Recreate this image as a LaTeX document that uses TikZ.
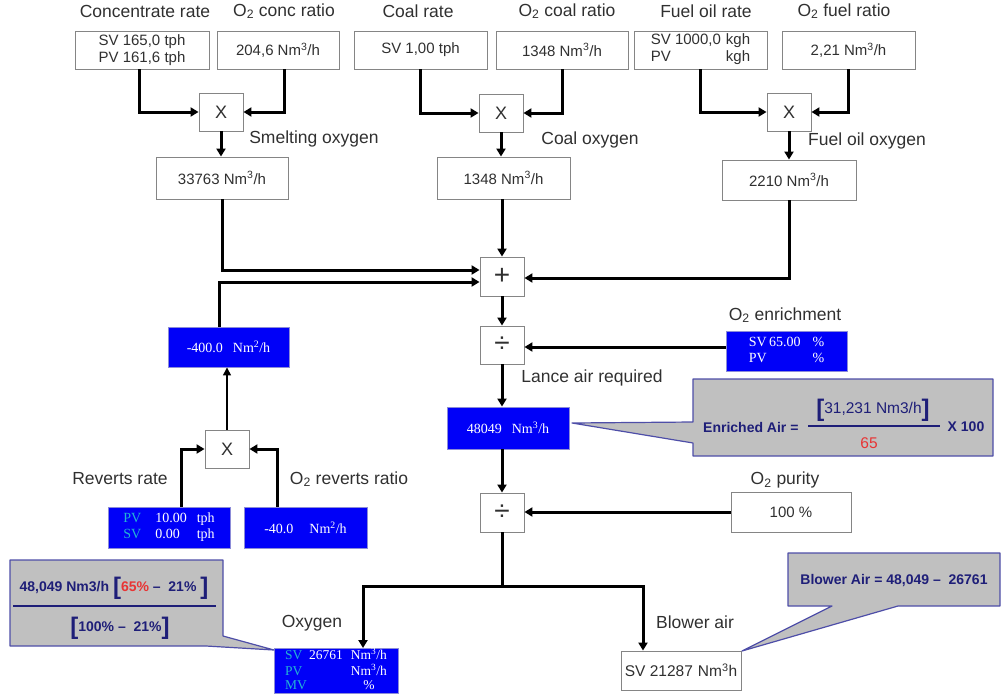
\documentclass[tikz,border=0pt]{standalone}
\usepackage{fontspec}
\setmainfont{Liberation Sans}
\newfontfamily\serifbox{Liberation Serif}
\usetikzlibrary{arrows.meta}
\definecolor{bxblue}{HTML}{0000F8}
\definecolor{bxedge}{HTML}{8C8CD8}
\definecolor{cyanlab}{HTML}{22B4D4}
\definecolor{navy}{HTML}{1E1E78}
\definecolor{calloutfill}{HTML}{C0C0C0}
\definecolor{calloutedge}{HTML}{4E4EA8}
\definecolor{redv}{HTML}{E83434}
\definecolor{lbltext}{HTML}{303030}
\definecolor{boxedge}{HTML}{858585}
\newcommand{\Nmh}{Nm\textsuperscript{3}/h}
\newcommand{\Otwo}{O\textsubscript{2}}
\newcommand{\bbr}[1]{\raisebox{-3pt}{\fontsize{24}{24}\selectfont\bfseries #1}}
\begin{document}
\begin{tikzpicture}[x=1pt,y=-1pt,
 wbox/.style={draw=boxedge,line width=0.9pt,fill=white,inner sep=0pt,font=\fontsize{15}{17}\selectfont,text=lbltext,align=center},
 opbox/.style={wbox,minimum width=44pt,minimum height=38pt},
 bbox/.style={draw=bxedge,line width=0.9pt,fill=bxblue,inner sep=0pt,text=white,font=\serifbox\fontsize{14}{16}\selectfont},
 lbl/.style={font=\fontsize{17.5}{20}\selectfont,text=lbltext,inner sep=0pt},
 conn/.style={line width=3pt,-{Triangle[length=8pt,width=9pt]}},
 plain/.style={line width=3pt},
 thinconn/.style={line width=1.4pt,-{Triangle[length=8pt,width=8pt]}},
 callout/.style={fill=calloutfill,draw=calloutedge,line width=1.2pt,line join=round},
 ctext/.style={text=navy,font=\bfseries\fontsize{14}{16}\selectfont,inner sep=0pt},
]
\useasboundingbox (0,0) rectangle (1003,696);

% top labels
\node[lbl] (lconc) at (145,11) {Concentrate rate};
\node[lbl] (loconc) at (284,11) {\Otwo{} conc ratio};
\node[lbl] (lcoal) at (418,11) {Coal rate};
\node[lbl] (locoal) at (567,11) {\Otwo{} coal ratio};
\node[lbl] (lfuel) at (706,11) {Fuel oil rate};
\node[lbl] (lofuel) at (844,11) {\Otwo{} fuel ratio};

% top boxes
\node[wbox,minimum width=134pt,minimum height=38pt] (conc) at (142,50) {SV 165,0 tph\\PV 161,6 tph};
\node[wbox,minimum width=122pt,minimum height=38pt] (oconc) at (278,50) {204,6 \Nmh};
\node[wbox,minimum width=133pt,minimum height=38pt] (coal) at (420.5,50) {SV 1,00 tph};
\node[wbox,minimum width=132pt,minimum height=38pt] (ocoal) at (562,50) {1348 \Nmh};
\node[wbox,minimum width=133pt,minimum height=38pt] (fuel) at (700.5,50) {\begin{tabular}{@{}l@{\hspace{5pt}}r@{}}SV 1000,0&kgh\\PV&kgh\end{tabular}};
\node[wbox,minimum width=133pt,minimum height=38pt] (ofuel) at (848.5,50) {2,21 \Nmh};

% multipliers
\node[opbox,font=\fontsize{18}{20}\selectfont] (x1) at (221,112) {X};
\node[opbox,font=\fontsize{18}{20}\selectfont] (x2) at (501,113) {X};
\node[opbox,font=\fontsize{18}{20}\selectfont] (x3) at (789,112) {X};

\node[lbl] (lsmelt) at (314,139) {Smelting oxygen};
\node[lbl] (lcoalo) at (590,140) {Coal oxygen};
\node[lbl] (lfuelo) at (867,141) {Fuel oil oxygen};

% middle boxes
\node[wbox,minimum width=132pt,minimum height=42pt] (smelt) at (222,178) {33763 \Nmh};
\node[wbox,minimum width=133pt,minimum height=42pt] (coalo) at (503.5,178) {1348 \Nmh};
\node[wbox,minimum width=134pt,minimum height=40pt] (fuelo) at (789,180) {2210 \Nmh};

% operators
\node[opbox,minimum height=39pt,font=\fontsize{28}{28}\selectfont] (plus) at (502,276.5) {+};
\node[opbox,font=\fontsize{28}{28}\selectfont] (div1) at (502,345) {÷};
\node[opbox,minimum height=39pt,font=\fontsize{28}{28}\selectfont] (div2) at (502,512.5) {÷};

% blue boxes
\node[bbox,minimum width=121pt,minimum height=40pt] (m400) at (228.5,347) {-400.0\hspace{10pt}Nm\textsuperscript{2}/h};
\node[lbl] (lenrich) at (785,315) {\Otwo{} enrichment};
\node[bbox,minimum width=121pt,minimum height=40pt] (enrich) at (786.5,351) {\begin{tabular}{@{}l@{\hspace{12pt}}l@{}}SV\,65.00 & \%\\ PV & \%\end{tabular}};
\node[lbl] (llance) at (592,378) {Lance air required};
\node[bbox,minimum width=122pt,minimum height=42pt] (res) at (508,428) {48049\hspace{10pt}\Nmh};

\node[opbox,font=\fontsize{18}{20}\selectfont] (rx) at (227,449) {X};
\node[lbl] (lrev) at (120,479) {Reverts rate};
\node[lbl] (lorev) at (349,479) {\Otwo{} reverts ratio};
\node[bbox,minimum width=122pt,minimum height=41pt] (rev) at (169,527.5) {\begin{tabular}{@{}l@{\hspace{14pt}}l@{\hspace{10pt}}l@{}}\textcolor{cyanlab}{PV} & 10.00 & tph\\ \textcolor{cyanlab}{SV} & 0.00 & tph\end{tabular}};
\node[bbox,minimum width=123pt,minimum height=41pt] (o2rev) at (305.5,527.5) {-40.0\hspace{16pt}Nm\textsuperscript{2}/h};

\node[lbl] (lpur) at (785,480) {\Otwo{} purity};
\node[wbox,minimum width=120pt,minimum height=40pt] (purity) at (791,512) {100 \%};

\node[lbl] (loxy) at (312,623) {Oxygen};
\node[lbl] (lblow) at (695,622) {Blower air};
\node[bbox,minimum width=124pt,minimum height=44pt,font=\serifbox\fontsize{13.5}{13.8}\selectfont] (oxy) at (336,671) {\begin{tabular}{@{}l@{\,}l@{\hspace{8pt}}c@{}}\textcolor{cyanlab}{SV}&26761&\Nmh\\ \textcolor{cyanlab}{PV}&&\Nmh\\ \textcolor{cyanlab}{MV}&&\%\end{tabular}};
\node[wbox,minimum width=120pt,minimum height=39pt,font=\fontsize{15.5}{17}\selectfont] (blow) at (681,670.5) {SV 21287\hspace{5pt}Nm\textsuperscript{3}h};

% connectors
\draw[conn] ([xshift=-3pt]conc.south) |- (x1.west);
\draw[conn] ([xshift=6pt]oconc.south) |- (x1.east);
\draw[conn] (coal.south) |- (x2.west);
\draw[conn] (ocoal.south) |- (x2.east);
\draw[conn] (fuel.south) |- (x3.west);
\draw[conn] (ofuel.south) |- (x3.east);
\draw[conn] (x1.south) -- (x1.south |- smelt.north);
\draw[conn] (x2.south) -- (x2.south |- coalo.north);
\draw[conn] (x3.south) -- (fuelo.north);
\draw[conn] (smelt.south) |- ([yshift=6.5pt]plus.west);
\draw[conn] ([xshift=-9.5pt]m400.north) |- ([yshift=-5.5pt]plus.west);
\draw[conn] (plus.north |- coalo.south) -- (plus.north);
\draw[conn] (fuelo.south) |- ([yshift=-1.5pt]plus.east);
\draw[conn] (plus.south) -- (div1.north);
\draw[conn] ([yshift=4pt]enrich.west) -- ([yshift=4pt]enrich.west -| div1.east);
\draw[conn] (div1.south) -- (div1.south |- res.north);
\draw[conn] (div1.south |- res.south) -- (div2.north);
\draw[conn] (purity.west) -- (purity.west -| div2.east);
\coordinate (split) at (502,586);
\draw[plain] (div2.south) -- (split);
\draw[conn] (split) -| ([xshift=27pt]oxy.north);
\draw[conn] (split) -| ([xshift=-38pt]blow.north);
\draw[thinconn] (rx.north) -- (rx.north |- m400.south);
\draw[conn] ([xshift=12pt]rev.north) |- (rx.west);
\draw[conn] ([xshift=-28.5pt]o2rev.north) |- (rx.east);

% callout: enriched air
\draw[callout] (693,379) -- (993,379) -- (993,456) -- (693,456) -- (693,443) -- (572,423) -- (693,422) -- cycle;
\node[ctext,anchor=west] (ea) at (703,427) {Enriched Air =};
\node[text=navy,font=\fontsize{15.5}{17}\selectfont,inner sep=0pt] (eanum) at (873,410) {\bbr{[}31,231 Nm3/h\bbr{]}};
\draw[navy,line width=1.6pt] (808,426) -- (940,426);
\node[text=redv,font=\fontsize{15.5}{17}\selectfont,inner sep=0pt] (ea65) at (869,443) {65};
\node[ctext] (x100) at (966,427) {X 100};

% callout: oxygen
\draw[callout] (10,560) -- (223,560) -- (223,636) -- (274,650) -- (206,646) -- (10,646) -- cycle;
\node[ctext] (oxnum) at (114,588) {48,049 Nm3/h \bbr{[}\textcolor{redv}{65\%} – \ 21\% \bbr{]}};
\draw[navy,line width=1.6pt] (13,606) -- (216,606);
\node[ctext] (oxden) at (120,628) {\bbr{[}100\% – \ 21\%\bbr{]}};

% callout: blower air
\draw[callout] (788,553) -- (1000,553) -- (1000,606) -- (898,606) -- (742,651) -- (832,606) -- (788,606) -- cycle;
\node[ctext] (bwtxt) at (894,581) {Blower Air = 48,049 – \ 26761};
\end{tikzpicture}
\end{document}
